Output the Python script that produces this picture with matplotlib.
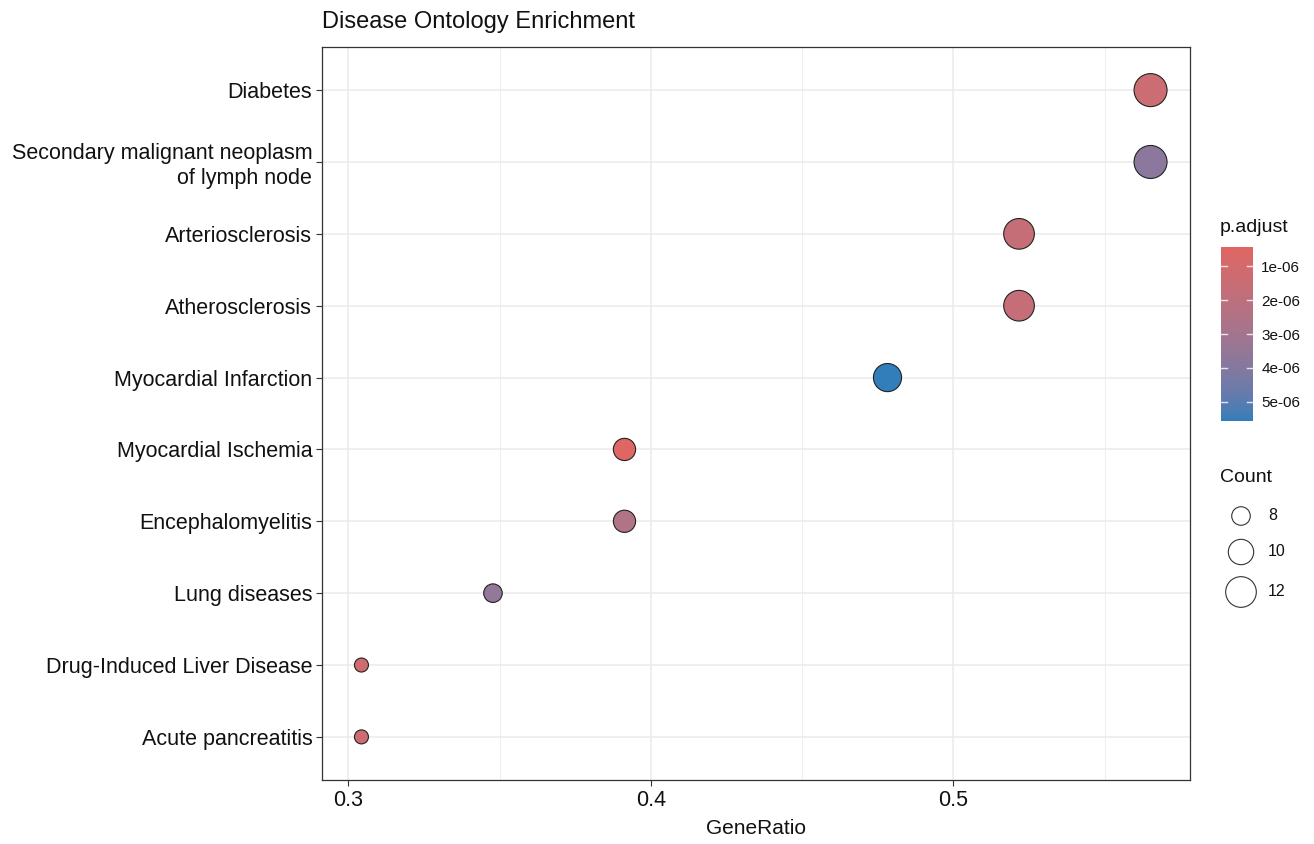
import numpy as np
import matplotlib
matplotlib.use("Agg")
import matplotlib.pyplot as plt

plt.rcParams['font.family'] = ['Liberation Sans', 'DejaVu Sans']

# ---- data -------------------------------------------------------------
terms = [
    "Diabetes",
    "Secondary malignant neoplasm\nof lymph node",
    "Arteriosclerosis",
    "Atherosclerosis",
    "Myocardial Infarction",
    "Myocardial Ischemia",
    "Encephalomyelitis",
    "Lung diseases",
    "Drug-Induced Liver Disease",
    "Acute pancreatitis",
]
gene_ratio = [13/23, 13/23, 12/23, 12/23, 11/23, 9/23, 9/23, 8/23, 7/23, 7/23]
counts = [13, 13, 12, 12, 11, 9, 9, 8, 7, 7]
p_adjust = [1.4e-06, 3.8e-06, 1.6e-06, 1.6e-06, 5.56e-06,
            0.44e-06, 2.5e-06, 3.6e-06, 1.2e-06, 1.3e-06]
cbar_ticks = [1e-06, 2e-06, 3e-06, 4e-06, 5e-06]
cbar_ticklabels = ["1e-06", "2e-06", "3e-06", "4e-06", "5e-06"]
size_breaks = [8, 10, 12]
x_ticks = [0.3, 0.4, 0.5]
x_minor = [0.25, 0.35, 0.45, 0.55]

LOW_COL = "#e06663"
HIGH_COL = "#327eba"

W, H, DPI = 1314, 844, 100


# ---- colour gradient interpolated in CIE Lab --------------------------
def _hex_to_rgb(h):
    h = h.lstrip('#')
    return np.array([int(h[i:i + 2], 16) / 255 for i in (0, 2, 4)])


def _srgb_to_lab(c):
    c = np.where(c <= 0.04045, c / 12.92, ((c + 0.055) / 1.055) ** 2.4)
    M = np.array([[0.4124, 0.3576, 0.1805],
                  [0.2126, 0.7152, 0.0722],
                  [0.0193, 0.1192, 0.9505]])
    xyz = M @ c / np.array([0.95047, 1.0, 1.08883])
    f = np.where(xyz > 0.008856, np.cbrt(xyz), 7.787 * xyz + 16 / 116)
    return np.array([116 * f[1] - 16, 500 * (f[0] - f[1]), 200 * (f[1] - f[2])])


def _lab_to_srgb(lab):
    L, a, b = lab
    fy = (L + 16) / 116
    fx = fy + a / 500
    fz = fy - b / 200
    f = np.array([fx, fy, fz])
    xyz = np.where(f ** 3 > 0.008856, f ** 3, (f - 16 / 116) / 7.787)
    xyz = xyz * np.array([0.95047, 1.0, 1.08883])
    Minv = np.array([[3.2406, -1.5372, -0.4986],
                     [-0.9689, 1.8758, 0.0415],
                     [0.0557, -0.2040, 1.0570]])
    c = Minv @ xyz
    c = np.where(c <= 0.0031308, 12.92 * c, 1.055 * np.clip(c, 0, None) ** (1 / 2.4) - 0.055)
    return np.clip(c, 0, 1)


LAB_LOW = _srgb_to_lab(_hex_to_rgb(LOW_COL))
LAB_HIGH = _srgb_to_lab(_hex_to_rgb(HIGH_COL))
P_MIN, P_MAX = min(p_adjust), max(p_adjust)


def p_color(p):
    t = (p - P_MIN) / (P_MAX - P_MIN)
    return _lab_to_srgb(LAB_LOW + t * (LAB_HIGH - LAB_LOW))


# ---- point size: area linear in Count ---------------------------------
C_MIN, C_MAX = min(counts), max(counts)
D_MIN, D_MAX = 14.0, 33.0  # diameters in px


def size_pts2(c):
    d2 = D_MIN ** 2 + (c - C_MIN) / (C_MAX - C_MIN) * (D_MAX ** 2 - D_MIN ** 2)
    d_pt = np.sqrt(d2) * 72 / DPI
    return d_pt ** 2


# ---- figure -----------------------------------------------------------
fig = plt.figure(figsize=(W / DPI, H / DPI), dpi=DPI)
fig.patch.set_facecolor("white")

ax_l, ax_r, ax_t, ax_b = 322, 1190, 47, 780
ax = fig.add_axes([ax_l / W, 1 - ax_b / H, (ax_r - ax_l) / W, (ax_b - ax_t) / H])

n = len(terms)
ypos = np.arange(n)[::-1]
cols = [p_color(p) for p in p_adjust]
sizes = [size_pts2(c) for c in counts]
ax.scatter(gene_ratio, ypos, s=sizes, c=cols, edgecolors="#222222",
           linewidths=0.8, zorder=3)

ax.set_xticks(x_ticks)
ax.set_xticklabels([f"{v:.1f}" for v in x_ticks])
ax.set_xticks(x_minor, minor=True)
ax.set_yticks(ypos)
ax.set_yticklabels(terms, ha="right", linespacing=1.2)

xr = max(gene_ratio) - min(gene_ratio)
ax.set_xlim(min(gene_ratio) - 0.05 * xr, max(gene_ratio) + 0.05 * xr)
ax.set_ylim(-0.6, n - 1 + 0.6)

ax.grid(True, which="major", color="#ebebeb", linewidth=1.1, zorder=0)
ax.grid(True, which="minor", axis="x", color="#ebebeb", linewidth=0.6, zorder=0)
ax.set_axisbelow(True)
for sp in ax.spines.values():
    sp.set_color("#333333")
    sp.set_linewidth(0.9)
ax.tick_params(axis="both", which="major", length=4, width=0.8, color="#333333",
               labelsize=15.5, labelcolor="#111111", pad=3)
ax.tick_params(axis="both", which="minor", length=0)
ax.set_xlabel("GeneRatio", fontsize=15, color="#111111", labelpad=6)
fig.text(ax_l / W, 1 - 22 / H, "Disease Ontology Enrichment", fontsize=17,
         color="#111111", ha="left", va="center")

# ---- colour bar -------------------------------------------------------
cb_l, cb_r, cb_t, cb_b = 1221, 1253, 247, 421
cax = fig.add_axes([cb_l / W, 1 - cb_b / H, (cb_r - cb_l) / W, (cb_b - cb_t) / H])
grad_p = np.linspace(P_MIN, P_MAX, 200)
grad = np.array([p_color(p) for p in grad_p])[:, None, :]
cax.imshow(grad, aspect="auto", extent=[0, 1, P_MAX, P_MIN], origin="upper")
cax.set_xlim(0, 1)
cax.set_ylim(P_MAX, P_MIN)
for t in cbar_ticks:
    cax.plot([0, 0.2], [t, t], color="white", lw=1, alpha=0.8)
    cax.plot([0.8, 1], [t, t], color="white", lw=1, alpha=0.8)
cax.set_xticks([])
cax.yaxis.tick_right()
cax.set_yticks(cbar_ticks)
cax.set_yticklabels(cbar_ticklabels)
cax.tick_params(axis="y", length=0, labelsize=11, labelcolor="#111111", pad=6)
for sp in cax.spines.values():
    sp.set_visible(False)
fig.text(1220 / W, 1 - 228 / H, "p.adjust", fontsize=14, color="#111111",
         ha="left", va="center")

# ---- size legend ------------------------------------------------------
lax = fig.add_axes([0, 0, 1, 1], facecolor="none")
lax.set_xlim(0, W)
lax.set_ylim(H, 0)
lax.axis("off")
fig.text(1220 / W, 1 - 478 / H, "Count", fontsize=14, color="#111111",
         ha="left", va="center")
leg_y = [516, 552, 592]
for c, yy in zip(size_breaks, leg_y):
    lax.scatter([1241], [yy], s=size_pts2(c), facecolors="none",
                edgecolors="#333333", linewidths=0.8)
    lax.text(1268, yy, str(c), fontsize=11.5, color="#111111", ha="left", va="center")

fig.savefig("out.png", dpi=DPI, facecolor="white")
